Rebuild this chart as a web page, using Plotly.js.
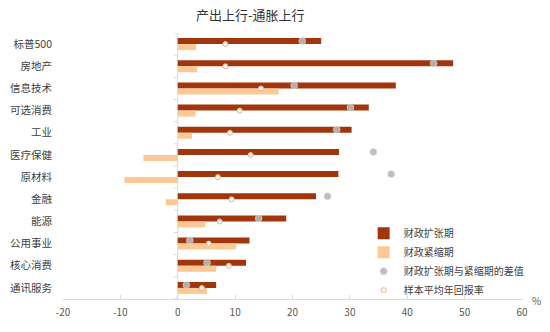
<!DOCTYPE html>
<html>
<head>
<meta charset="utf-8">
<script src="https://cdn.plot.ly/plotly-3.0.1.min.js"></script>
<style>html,body{margin:0;padding:0;background:#fff;}#chart{width:550px;height:332px;}</style>
</head>
<body>
<div id="chart"></div>
<script>
const categories = ['标普500','房地产','信息技术','可选消费','工业','医疗保健','原材料','金融','能源','公用事业','核心消费','通讯服务'];
const expansion = [25.0, 48.0, 38.0, 33.3, 30.3, 28.1, 28.0, 24.1, 18.9, 12.5, 11.9, 6.7];
const contraction = [3.2, 3.4, 17.6, 3.1, 2.5, -6.0, -9.3, -2.1, 4.8, 10.2, 6.7, 5.1];
const difference = [21.7, 44.6, 20.3, 30.1, 27.7, 34.1, 37.2, 26.1, 14.1, 2.1, 5.1, 1.5];
const sampleAvg = [8.3, 8.3, 14.5, 10.8, 9.1, 12.7, 7.0, 9.4, 7.3, 5.4, 8.9, 4.2];
const xTicks = [-20, -10, 0, 10, 20, 30, 40, 50, 60];

const FONT = '"Noto Sans CJK SC", "Microsoft YaHei", sans-serif';
const pos = categories.map((c, i) => i);
const darkOffset = 0.135;
const posDiff = pos.map(p => p - darkOffset);

const traces = [
  {type:'bar', orientation:'h', name:'财政扩张期', x:expansion, y:pos, marker:{color:'#a1360c'}, hoverinfo:'x'},
  {type:'bar', orientation:'h', name:'财政紧缩期', x:contraction, y:pos, marker:{color:'#fcc995'}, hoverinfo:'x'},
  {type:'scatter', mode:'markers', name:'财政扩张期与紧缩期的差值', x:difference, y:posDiff,
   marker:{color:'rgba(185,185,185,0.92)', size:7, line:{color:'rgba(225,225,225,0.9)', width:0.5}}},
  {type:'scatter', mode:'markers', name:'样本平均年回报率', x:sampleAvg, y:pos,
   marker:{color:'#ffffff', size:5, line:{color:'#e9ad8a', width:1}}}
];

const shapes = [
  {type:'line', xref:'x', yref:'y', x0:0, x1:0, y0:-0.5, y1:categories.length-0.5, line:{color:'#d9d9d9', width:1}, layer:'below'}
];
for (let i = 0; i <= categories.length; i++) {
  shapes.push({type:'line', xref:'x', yref:'y', xsizemode:'pixel', xanchor:0, x0:-4, x1:0, y0:i-0.5, y1:i-0.5, line:{color:'#d9d9d9', width:1}});
}

const layout = {
  width:550, height:332,
  margin:{l:63, r:28, t:33, b:33},
  paper_bgcolor:'#ffffff', plot_bgcolor:'#ffffff',
  font:{family:FONT, size:10, color:'#404040'},
  title:{text:'产出上行-通胀上行', font:{family:FONT, size:13, color:'#333333'}, xref:'container', x:0.455, xanchor:'center', yref:'container', y:0.952, yanchor:'middle'},
  barmode:'group', bargap:0.46, bargroupgap:0,
  xaxis:{range:[-20,60], tickvals:xTicks, ticktext:xTicks.map(String), showgrid:false, zeroline:false,
         showline:true, linecolor:'#d9d9d9', linewidth:1, ticks:'inside', ticklen:4, tickcolor:'#d9d9d9',
         ticklabelstandoff:4, tickfont:{family:FONT, size:10, color:'#595959'}, fixedrange:true},
  yaxis:{range:[categories.length-0.5, -0.5], tickvals:pos, ticktext:categories, showgrid:false, zeroline:false,
         showline:false, ticks:'', ticklabelstandoff:10, tickfont:{family:FONT, size:10.5, color:'#404040'}, fixedrange:true},
  showlegend:true,
  legend:{x:0.655, xanchor:'left', y:0.302, yanchor:'top', bgcolor:'rgba(0,0,0,0)', font:{family:FONT, size:10, color:'#404040'},
          itemwidth:30, tracegroupgap:0, traceorder:'normal'},
  annotations:[{text:'%', xref:'paper', yref:'paper', x:1.031, y:-0.005, showarrow:false, xanchor:'center', yanchor:'middle', font:{family:FONT, size:10, color:'#595959'}}],
  shapes:shapes
};

Plotly.newPlot('chart', traces, layout, {displayModeBar:false, staticPlot:true});
</script>
</body>
</html>
